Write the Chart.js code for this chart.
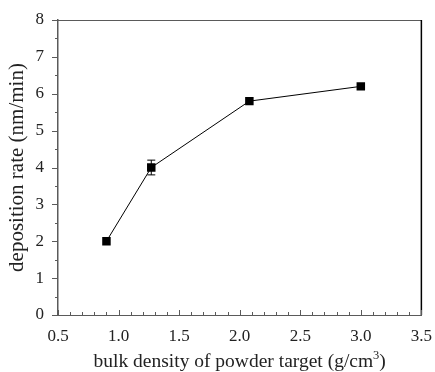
<!DOCTYPE html>
<html>
<head>
<meta charset="utf-8">
<script src="https://cdn.jsdelivr.net/npm/chart.js@4"></script>
<style>
  html, body { margin: 0; padding: 0; background: #fff; }
  #wrap { width: 435px; height: 372px; }
</style>
</head>
<body>
<div id="wrap"><canvas id="rateChart" width="435" height="372"></canvas></div>
<script>
// bulk density of the target (g/cm3) vs. deposition rate (nm/min)
const density = [0.9, 1.27, 2.08, 3.0];
const rate = [2.0, 4.0, 5.8, 6.2];
const rateErr = [0, 0.2, 0, 0];
const xTicks = [0.5, 1.0, 1.5, 2.0, 2.5, 3.0, 3.5];
const yTicks = [0, 1, 2, 3, 4, 5, 6, 7, 8];
const xTitle = ['bulk density of powder target (g/cm', '3', ')'];

const axisGray = '#5a5a5a';
const serif = 'Liberation Serif, Times New Roman, serif';

// frame, tick marks, error bars and the x title with its superscript
const framePlugin = {
    id: 'frame',
    afterDraw(chart) {
        const ctx = chart.ctx;
        const a = chart.chartArea;
        const xs = chart.scales.x, ys = chart.scales.y;
        ctx.save();
        ctx.lineWidth = 1;
        ctx.strokeStyle = axisGray;
        ctx.beginPath();
        ctx.moveTo(a.left, a.top + 0.5);
        ctx.lineTo(a.right, a.top + 0.5);
        ctx.stroke();
        ctx.strokeStyle = '#000';
        ctx.lineWidth = 1.5;
        ctx.beginPath();
        ctx.moveTo(a.right, a.top);
        ctx.lineTo(a.right, a.bottom);
        ctx.stroke();

        ctx.strokeStyle = axisGray;
        ctx.lineWidth = 1;
        ctx.beginPath();
        // x ticks, minor every 0.1, pointing up into the plot
        for (let i = 5; i <= 35; i++) {
            const px = Math.round(xs.getPixelForValue(i / 10)) + 0.5;
            const len = i % 5 === 0 ? 5 : 3;
            ctx.moveTo(px, a.bottom);
            ctx.lineTo(px, a.bottom - len);
        }
        // y ticks, minor every 0.5, pointing left
        for (let i = 0; i <= 16; i++) {
            const py = Math.round(ys.getPixelForValue(i / 2)) + 0.5;
            const len = i % 2 === 0 ? 6 : 3;
            ctx.moveTo(a.left, py);
            ctx.lineTo(a.left - len, py);
        }
        ctx.stroke();

        // error bars
        ctx.strokeStyle = '#000';
        ctx.beginPath();
        density.forEach((d, i) => {
            if (!rateErr[i]) return;
            const px = xs.getPixelForValue(d);
            const hi = ys.getPixelForValue(rate[i] + rateErr[i]);
            const lo = ys.getPixelForValue(rate[i] - rateErr[i]);
            ctx.moveTo(px, hi); ctx.lineTo(px, lo);
            ctx.moveTo(px - 4, hi); ctx.lineTo(px + 4, hi);
            ctx.moveTo(px - 4, lo); ctx.lineTo(px + 4, lo);
        });
        ctx.stroke();

        // x axis title
        const big = '19.5px ' + serif, small = '12.5px ' + serif;
        ctx.fillStyle = '#222';
        ctx.textBaseline = 'alphabetic';
        ctx.font = big;
        const w0 = ctx.measureText(xTitle[0]).width;
        const w2 = ctx.measureText(xTitle[2]).width;
        ctx.font = small;
        const w1 = ctx.measureText(xTitle[1]).width;
        let tx = (a.left + a.right) / 2 - (w0 + w1 + w2) / 2;
        const base = 367;
        ctx.font = big;
        ctx.fillText(xTitle[0], tx, base);
        tx += w0;
        ctx.font = small;
        ctx.fillText(xTitle[1], tx, base - 8);
        tx += w1;
        ctx.font = big;
        ctx.fillText(xTitle[2], tx, base);
        ctx.restore();
    }
};

const ctx = document.getElementById('rateChart').getContext('2d');
const rateChart = new Chart(ctx, {
    type: 'scatter',
    data: {
        datasets: [{
            label: 'deposition rate',
            data: density.map((d, i) => ({ x: d, y: rate[i] })),
            showLine: true,
            borderColor: '#000',
            borderWidth: 1,
            backgroundColor: '#000',
            pointStyle: 'rect',
            pointRadius: 6,
            pointBorderWidth: 0
        }]
    },
    options: {
        responsive: false,
        animation: false,
        layout: { padding: { top: 20, right: 11, left: 0, bottom: 0 } },
        plugins: { legend: { display: false }, tooltip: { enabled: false } },
        scales: {
            x: {
                type: 'linear',
                min: 0.5, max: 3.5,
                afterBuildTicks: s => { s.ticks = xTicks.map(v => ({ value: v })); },
                afterFit: s => { s.height = 57; },
                grid: { display: false },
                border: { display: true, color: axisGray, width: 1 },
                ticks: {
                    padding: 3,
                    color: '#222',
                    font: { family: serif, size: 17 },
                    callback: v => v.toFixed(1)
                },
                title: { display: false }
            },
            y: {
                type: 'linear',
                min: 0, max: 8,
                afterBuildTicks: s => { s.ticks = yTicks.map(v => ({ value: v })); },
                afterFit: s => { s.width = 58; },
                grid: { display: false },
                border: { display: true, color: axisGray, width: 1.5 },
                ticks: {
                    padding: 6,
                    color: '#222',
                    font: { family: serif, size: 17 }
                },
                title: {
                    display: true,
                    text: 'deposition rate (nm/min)',
                    color: '#222',
                    font: { family: serif, size: 21 },
                    padding: { top: 5, bottom: 0 }
                }
            }
        }
    },
    plugins: [framePlugin]
});
</script>
</body>
</html>
